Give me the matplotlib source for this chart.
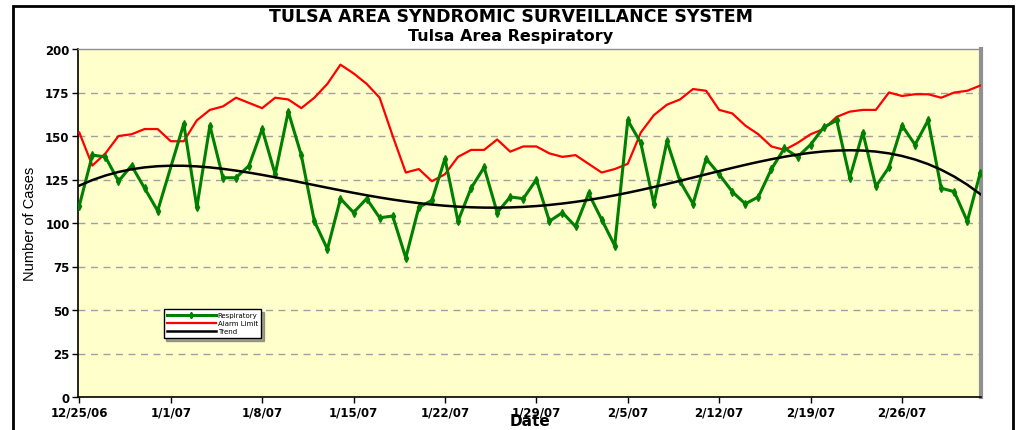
import numpy as np
import pandas as pd
import matplotlib
matplotlib.use("Agg")
import matplotlib.pyplot as plt
from matplotlib.patches import Rectangle

plt.rcParams['font.family'] = ['DejaVu Sans']

start_date = "2006-12-25"
n_days = 70

respiratory = [110, 139, 138, 124, 133, 120, 107, None, 157, 109,
               156, 126, 126, 133, 154, 128, 164, 139, 101, 85,
               114, 106, 114, 103, 104, 80, 109, 113, 137, 101,
               120, 132, 106, 115, 114, 125, 101, 106, 98, 117,
               102, 87, 159, 146, 111, 147, 124, 111, 137, 128,
               118, 111, 115, 131, 143, 138, 145, 155, 159, 126,
               152, 121, 132, 156, 145, 159, 120, 118, 101, 129]

alarm_limit = [152, 133, 140, 150, 151, 154, 154, 147, 147, 159,
               165, 167, 172, 169, 166, 172, 171, 166, 172, 180,
               191, 186, 180, 172, 150, 129, 131, 124, 128, 138,
               142, 142, 148, 141, 144, 144, 140, 138, 139, 134,
               129, 131, 134, 152, 162, 168, 171, 177, 176, 165,
               163, 156, 151, 144, 142, 146, 151, 154, 161, 164,
               165, 165, 175, 173, 174, 174, 172, 175, 176, 179]

tick_labels = ["12/25/06", "1/1/07", "1/8/07", "1/15/07", "1/22/07",
               "1/29/07", "2/5/07", "2/12/07", "2/19/07", "2/26/07"]
y_ticks = [0, 25, 50, 75, 100, 125, 150, 175, 200]

dates = pd.date_range(start_date, periods=n_days, freq="D")
x = matplotlib.dates.date2num(dates)
resp = np.array([np.nan if v is None else v for v in respiratory], dtype=float)
valid = ~np.isnan(resp)

# polynomial trendline (as in Excel) fitted to the respiratory counts
t = np.arange(n_days)
coef = np.polyfit(t[valid], resp[valid], 4)
trend = np.polyval(coef, t)

fig = plt.figure(figsize=(10.21, 4.31), dpi=100)
ax = fig.add_axes([78/1021, 33/431, 903/1021, 348/431])
ax.set_facecolor("#FFFFCC")

for yv in y_ticks[1:-1]:
    ax.axhline(yv, color="#A0A0A0", lw=1.0, ls=(0, (5, 4)), zorder=1)

ax.plot(x, alarm_limit, color="#FF0000", lw=1.6, zorder=3, label="Alarm Limit")
ax.plot(x[valid], resp[valid], color="#008000", lw=2.2, marker="d",
        markersize=4, zorder=4, label="Respiratory")
ax.plot(x, trend, color="black", lw=1.8, zorder=5, label="Trend")

ax.set_xlim(x[0] - 0.1, x[-1] + 0.05)
ax.set_ylim(0, 200)
ax.set_yticks(y_ticks)
ax.set_yticklabels([str(v) for v in y_ticks], fontsize=8.5, fontweight="bold")
tick_pos = x[::7][:len(tick_labels)]
ax.set_xticks(tick_pos)
ax.set_xticklabels(tick_labels, fontsize=8.5, fontweight="bold")
ax.tick_params(axis="both", direction="out", length=4, width=1, pad=2)

ax.spines["left"].set_linewidth(1.2)
ax.spines["bottom"].set_linewidth(1.2)
ax.spines["top"].set_color("#909090")
ax.spines["top"].set_linewidth(1.0)
ax.spines["right"].set_color("#909090")
ax.spines["right"].set_linewidth(3.0)

ax.set_ylabel("Number of Cases", fontsize=10.5,
              family=["Liberation Sans"], labelpad=6)
ax.set_xlabel("Date", fontsize=11, fontweight="bold", labelpad=-4)

fig.text(0.5, 1 - 17/431, "TULSA AREA SYNDROMIC SURVEILLANCE SYSTEM",
         ha="center", va="center", fontsize=12.5, fontweight="bold")
fig.text(0.5, 1 - 36/431, "Tulsa Area Respiratory",
         ha="center", va="center", fontsize=11.5, fontweight="bold")

h, l = ax.get_legend_handles_labels()
order = [1, 0, 2]
leg = ax.legend([h[i] for i in order], [l[i] for i in order],
                loc="lower left", bbox_to_anchor=(0.091, 0.16), fontsize=5,
                frameon=True, fancybox=False, shadow=True, handlelength=7,
                borderpad=0.5, labelspacing=0.3, handletextpad=0.3,
                markerscale=0.8)
leg.get_frame().set_edgecolor("black")
leg.get_frame().set_linewidth(1.0)
leg.get_frame().set_facecolor("white")

fig.add_artist(Rectangle((13/1021, -0.05), 1000/1021, 1.05 - 7/431,
                         transform=fig.transFigure, fill=False,
                         edgecolor="black", lw=2.0))

fig.savefig("out.png", dpi=100)
